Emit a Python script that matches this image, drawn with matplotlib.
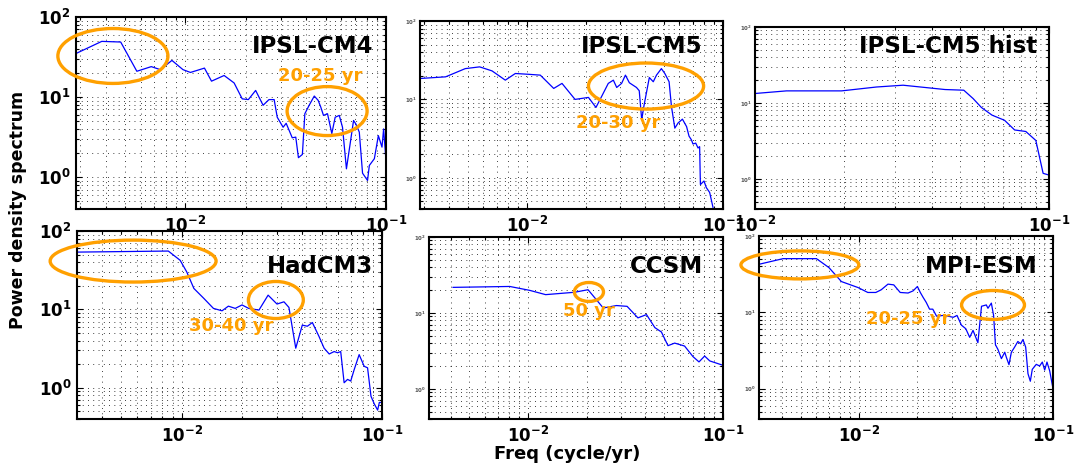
import numpy as np
import matplotlib
matplotlib.use("Agg")
import matplotlib.pyplot as plt
from matplotlib.patches import Ellipse
from matplotlib.ticker import LogLocator, NullFormatter

plt.rcParams['font.family'] = ['DejaVu Sans']
plt.rcParams['font.weight'] = 'bold'
plt.rcParams['mathtext.default'] = 'bf'
plt.rcParams['lines.scale_dashes'] = False

# ---- data ----
names = ["IPSL-CM4", "IPSL-CM5", "IPSL-CM5 hist", "HadCM3", "CCSM", "MPI-ESM"]

f_cm4 = [0.00285, 0.00383, 0.00476, 0.00573, 0.00676, 0.0075, 0.00857, 0.00973, 0.0106, 0.01245,
         0.0135, 0.0156, 0.0175, 0.0192, 0.0206, 0.0224, 0.0244, 0.0261, 0.0277, 0.0287,
         0.0307, 0.0318, 0.0341, 0.0355, 0.0366, 0.0383, 0.0394, 0.0414, 0.0439, 0.0459,
         0.0473, 0.0488, 0.0511, 0.0537, 0.0558, 0.0585, 0.0607, 0.0635, 0.0664, 0.0689,
         0.0708, 0.0736, 0.0764, 0.0809, 0.0826, 0.0875, 0.0916, 0.0955, 0.0973, 0.1]
p_cm4 = [35, 49.6, 48.7, 21, 24, 22, 28.7, 22, 20.3, 23,
         15.8, 18.6, 15, 9.5, 9.3, 12.1, 7.9, 9.3, 9.3, 5.6,
         4.2, 4.7, 3.1, 3.16, 1.75, 1.92, 6.2, 7.9, 10.3, 9.1,
         7.5, 5.9, 6.2, 3.5, 5.6, 5.9, 4.2, 1.27, 2.7, 5.1,
         4.6, 3.65, 1.12, 0.91, 1.4, 1.7, 3.3, 2.37, 4.0, 1.6]

f_cm5 = [0.00287, 0.00385, 0.00485, 0.00574, 0.00664, 0.00776, 0.00873, 0.0102, 0.0117, 0.0137,
         0.0151, 0.0176, 0.0206, 0.0225, 0.0240, 0.0260, 0.0276, 0.0287, 0.0304, 0.0318,
         0.0333, 0.0362, 0.0374, 0.0385, 0.0395, 0.0421, 0.0441, 0.0458, 0.0485, 0.0505,
         0.0531, 0.0546, 0.0568, 0.0590, 0.0621, 0.0652, 0.0671, 0.0690, 0.0703, 0.0726,
         0.0746, 0.0760, 0.0767, 0.0800, 0.0822, 0.0855, 0.0889]
p_cm5 = [18.5, 19.4, 24.7, 26, 23.1, 17.6, 21.4, 20.9, 20.4, 13.8,
         16, 10, 10.6, 7.9, 10.8, 16, 17.6, 14.2, 16, 20.4,
         16.3, 14.2, 12.9, 5.5, 8.2, 19, 16.8, 20.4, 24.7, 21.4,
         16.8, 8.1, 4.3, 5, 5.6, 4.5, 3.4, 3.05, 2.7, 2.77,
         2.4, 2.5, 0.82, 0.91, 0.75, 0.65, 0.42]

f_cm5h = [0.01, 0.0128, 0.0197, 0.0259, 0.0319, 0.0443, 0.0513, 0.0552,
          0.0589, 0.0640, 0.0706, 0.0764, 0.0834, 0.0902, 0.0955, 0.1]
p_cm5h = [13.3, 14.4, 14.4, 16.2, 17.1, 15, 14.7, 11.4,
          8.7, 6.9, 5.9, 4.4, 4.2, 3.2, 1.18, 1.12]

f_had = [0.0030, 0.00857, 0.00982, 0.0106, 0.0115, 0.0129, 0.0144, 0.0159, 0.0171, 0.0185,
         0.0200, 0.0216, 0.0243, 0.0270, 0.0299, 0.0324, 0.0343, 0.0371, 0.0400, 0.0424,
         0.0449, 0.0485, 0.0514, 0.0545, 0.0577, 0.0600, 0.0622, 0.0647, 0.0673, 0.0698,
         0.0726, 0.0769, 0.0815, 0.0847, 0.0881, 0.0916, 0.0951, 0.0970, 0.1]
p_had = [53.8, 55.5, 42.3, 30, 18.5, 13.8, 10.3, 9.6, 11, 10.3,
         11.4, 10.3, 9.8, 15.2, 11.7, 12.5, 10.6, 3.2, 6.3, 6.1,
         6.8, 4.5, 3.2, 2.7, 2.9, 2.8, 2.9, 1.16, 1.28, 1.22,
         1.7, 2.65, 1.88, 1.8, 0.78, 0.62, 0.52, 0.65, 0.65]

f_ccsm = [0.00412, 0.00805, 0.0102, 0.0123, 0.0173, 0.0203, 0.0243, 0.0284, 0.0322, 0.0366,
          0.0405, 0.0447, 0.0483, 0.0522, 0.0565, 0.0635, 0.0702, 0.0753, 0.0805, 0.0855, 0.1]
p_ccsm = [21.7, 22.3, 19.8, 17.4, 18.7, 20.2, 11.6, 12.5, 12.2, 8.6,
          9.5, 6.4, 5.6, 3.7, 4.0, 3.66, 2.65, 2.26, 2.7, 2.33, 2.04]

f_mpi = [0.00305, 0.00406, 0.00603, 0.0070, 0.00811, 0.00989, 0.0111, 0.0122, 0.0130, 0.0141,
         0.0151, 0.0163, 0.0179, 0.0190, 0.0200, 0.0207, 0.0214, 0.0222, 0.0231, 0.0240,
         0.0251, 0.0271, 0.0288, 0.0306, 0.0320, 0.0337, 0.0355, 0.0372, 0.0387, 0.0410,
         0.0428, 0.0453, 0.0462, 0.0481, 0.0494, 0.0505, 0.0520, 0.0542, 0.0564, 0.0574,
         0.0593, 0.0610, 0.0634, 0.0659, 0.0681, 0.0700, 0.0723, 0.0743, 0.0764, 0.0782,
         0.0820, 0.0853, 0.0881, 0.0906, 0.0931, 0.0962, 0.1]
p_mpi = [42.6, 50.5, 50.5, 38.5, 25.3, 21.1, 18.2, 18.2, 19.7, 23.4,
         22.9, 18.2, 17.9, 19.1, 21.8, 18.2, 15.7, 13.5, 11, 11,
         8.9, 9.1, 8.9, 8.6, 9.1, 6.8, 6.1, 4.7, 5.8, 4.0,
         12, 12.5, 11.3, 13.2, 9.1, 3.76, 3.27, 2.47, 3.0, 2.6,
         2.06, 3.0, 3.5, 4.15, 3.87, 4.4, 3.5, 1.57, 1.25, 1.79,
         2.08, 1.98, 2.23, 1.75, 2.23, 1.7, 1.0]

freqs = [f_cm4, f_cm5, f_cm5h, f_had, f_ccsm, f_mpi]
powers = [p_cm4, p_cm5, p_cm5h, p_had, p_ccsm, p_mpi]
xmins = [0.00285, 0.00285, 0.01, 0.003, 0.0031, 0.00305]

# period labels: (text, x, y) in axes fraction
periods = {0: [("20-25 yr", 0.787, 0.693)],
           1: [("20-30 yr", 0.653, 0.455)],
           3: [("30-40 yr", 0.505, 0.495)],
           4: [("50 yr", 0.544, 0.593)],
           5: [("20-25 yr", 0.507, 0.546)]}
# circled regions: (cx, cy, w, h) in axes fraction
circles = {0: [(0.119, 0.797, 0.355, 0.286), (0.810, 0.510, 0.258, 0.255)],
           1: [(0.746, 0.654, 0.380, 0.245)],
           3: [(0.184, 0.840, 0.544, 0.223), (0.652, 0.633, 0.180, 0.197)],
           4: [(0.544, 0.698, 0.099, 0.104)],
           5: [(0.139, 0.842, 0.401, 0.153), (0.796, 0.623, 0.214, 0.158)]}
# title position (right edge, baseline) in axes fraction
title_pos = [(0.958, 0.8125), (0.931, 0.830), (0.959, 0.857),
             (0.970, 0.777), (0.932, 0.802), (0.949, 0.798)]

# axes boxes in pixels: left, right, top, bottom
W, H = 1078, 465
boxes = [(76, 386, 17, 209), (420, 723, 21, 209), (755, 1049, 27, 209),
         (77, 382, 231, 419), (429, 723, 237, 419), (759, 1053, 236, 419)]

ORANGE = '#FFA000'

fig = plt.figure(figsize=(W / 100, H / 100), dpi=100)

for i in range(6):
    l, r, t, b = boxes[i]
    ax = fig.add_axes([l / W, 1 - b / H, (r - l) / W, (b - t) / H])
    ax.loglog(freqs[i], powers[i], color='#0000FF', lw=0.9)
    ax.set_xlim(xmins[i], 0.1)
    ax.set_ylim(0.4, 100)

    ax.xaxis.set_major_locator(LogLocator(base=10, numticks=10))
    ax.yaxis.set_major_locator(LogLocator(base=10, numticks=10))
    ax.xaxis.set_minor_formatter(NullFormatter())
    ax.yaxis.set_minor_formatter(NullFormatter())
    ax.grid(True, which='both', color='k', linestyle=(0, (0.6, 3.2)), linewidth=0.6)
    ax.tick_params(which='both', direction='in', top=True, right=True, width=0.8)
    ax.tick_params(which='major', length=4)
    ax.tick_params(which='minor', length=2)
    ax.tick_params(axis='x', labelsize=12, pad=5)
    if i % 3 == 0:
        ax.tick_params(axis='y', labelsize=12, pad=4)
    else:
        ax.tick_params(axis='y', labelsize=4, pad=2, labelcolor='#555555')
    for s in ax.spines.values():
        s.set_linewidth(1.5)

    tx, ty = title_pos[i]
    ax.text(tx, ty, names[i], transform=ax.transAxes, ha='right', va='baseline',
            fontsize=16.5, fontweight='bold')

    for (cx, cy, w, h) in circles.get(i, []):
        ax.add_patch(Ellipse((cx, cy), w, h, transform=ax.transAxes, fill=False,
                             edgecolor=ORANGE, lw=2.4, clip_on=False, zorder=5))
    for (txt, x, y) in periods.get(i, []):
        ax.text(x, y, txt, transform=ax.transAxes, ha='center', va='center',
                fontsize=13, fontweight='bold', color=ORANGE, zorder=6)

fig.text(18 / W, 1 - 210 / H, "Power density spectrum", rotation=90,
         ha='center', va='center', fontsize=12.5, fontweight='bold')
fig.text(567 / W, 1 - 454 / H, "Freq (cycle/yr)", ha='center', va='center',
         fontsize=13, fontweight='bold')

fig.savefig("out.png", dpi=100)
